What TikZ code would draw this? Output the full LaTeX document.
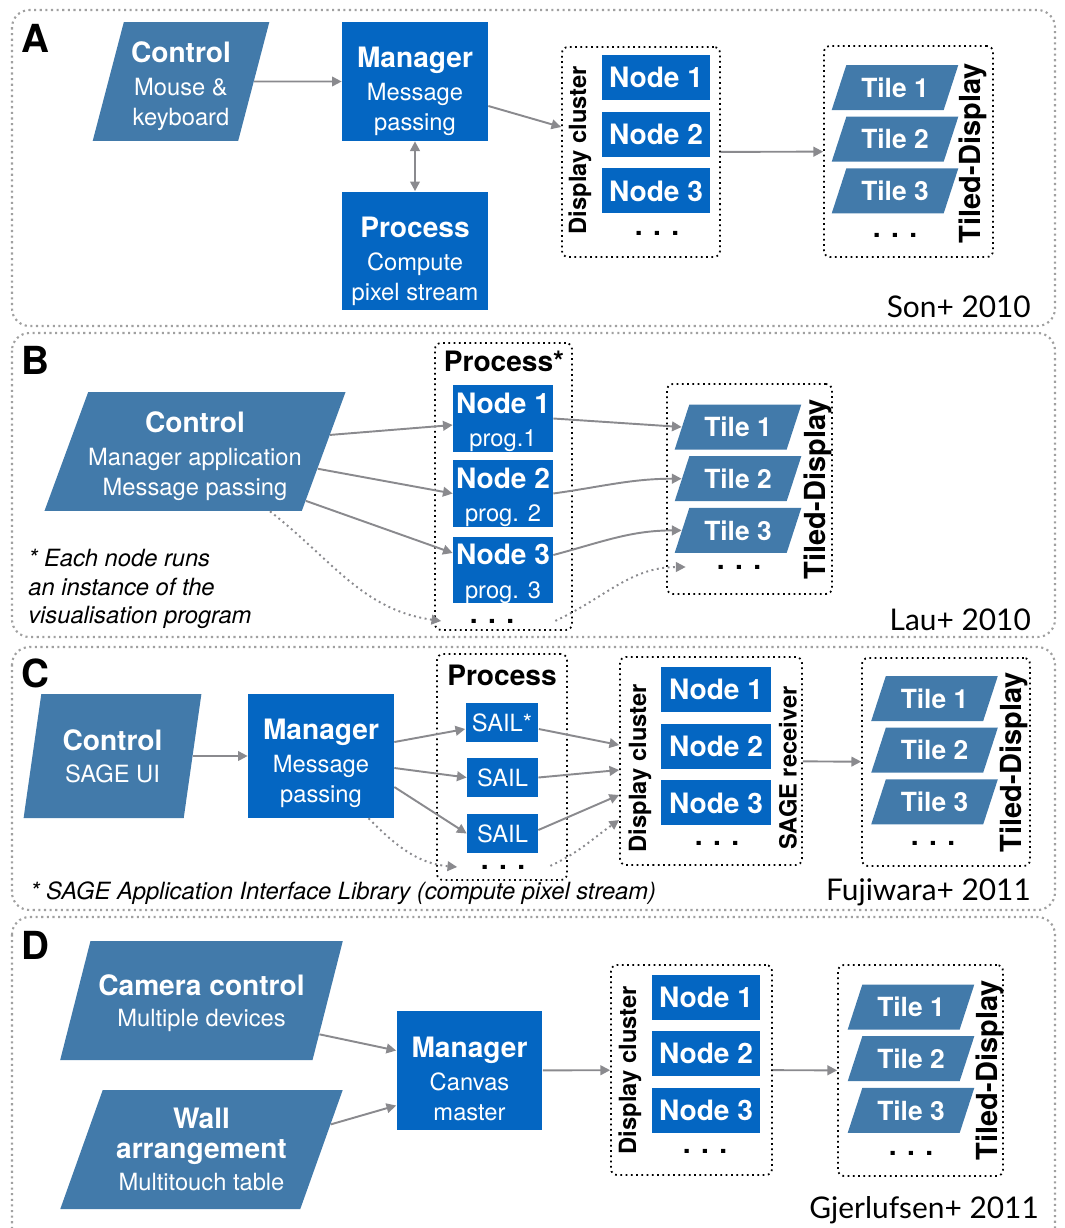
\documentclass[tikz,border=0pt]{standalone}
\usepackage{fontspec}
\setmainfont{TeX Gyre Heros}
\newfontfamily\citefont{Lato}
\usetikzlibrary{arrows.meta, positioning, shapes.geometric}

\definecolor{ctrlblue}{HTML}{427AAA}
\definecolor{boxblue}{HTML}{0466C2}
\definecolor{arrgray}{HTML}{8A8A8E}
\definecolor{framegray}{HTML}{A0A0A0}

% heading line, with an optional strut that pushes the text block down
\newcommand{\hd}[2][0pt]{{\rule{0pt}{#1}\fontsize{16}{19}\selectfont\bfseries #2}}

\tikzset{
  panel/.style={draw=framegray, dotted, line width=1.2pt, rounded corners=0.35cm},
  group/.style={draw, dotted, line width=1pt, rounded corners=0.12cm},
  para/.style={trapezium, trapezium stretches, fill=ctrlblue, text=white, align=center,
    inner sep=0pt, font=\fontsize{13.5}{17}\selectfont},
  mgrbox/.style={rectangle, fill=boxblue, text=white, align=center, inner sep=0pt,
    minimum width=2.92cm, minimum height=2.38cm, font=\fontsize{13.5}{17}\selectfont},
  nodebox/.style={rectangle, fill=boxblue, text=white, inner sep=0pt,
    minimum width=2.16cm, minimum height=0.9cm, font=\fontsize{16}{19}\selectfont\bfseries},
  sailbox/.style={nodebox, minimum width=1.42cm, minimum height=0.78cm,
    font=\fontsize{13.5}{16}\selectfont},
  tilebox/.style={trapezium, trapezium stretches, trapezium left angle=63, trapezium right angle=117,
    fill=ctrlblue, text=white, inner sep=0pt, minimum width=2.54cm, minimum height=0.9cm,
    font=\fontsize{15}{18}\selectfont\bfseries},
  vlabel/.style={rotate=90, font=\fontsize{13.5}{16}\selectfont\bfseries},
  tdlabel/.style={rotate=90, font=\fontsize{16.5}{19}\selectfont\bfseries},
  dots/.style={font=\fontsize{16}{19}\selectfont\bfseries},
  cite/.style={anchor=east, font=\citefont\fontsize{17}{20}\selectfont},
  note/.style={anchor=west, align=left, inner sep=0pt, font=\itshape\fontsize{13.5}{16.2}\selectfont},
  letter/.style={font=\fontsize{22}{26}\selectfont\bfseries},
  arr/.style={draw=arrgray, line width=1.1pt, ->},
  dotarr/.style={arr, dotted}
}

\begin{document}
\begin{tikzpicture}[x=0.02cm, y=-0.02cm, node distance=0.22cm,
  >={Triangle[length=5.5pt, width=5.5pt]}]
\useasboundingbox (0,0) rectangle (1065,1228);

% ---------------- A ----------------
\draw[panel] (12,10) rectangle (1055,326);
\node[letter] (labA) at (35,38) {A};
\node[para, trapezium left angle=74.5, trapezium right angle=105.5,
  minimum width=3.56cm, minimum height=2.38cm] (ctrlA) at (181,81.5)
  {\hd[17pt]{Control}\\[2pt]Mouse \&\\keyboard};
\node[mgrbox] (mgrA) at (415,81.5) {\hd[23pt]{Manager}\\[2pt]Message\\passing};
\node[mgrbox] (procA) at (415,251) {\hd[23pt]{Process}\\[2pt]Compute\\pixel stream};

\node[group, minimum width=3.16cm, minimum height=4.2cm] (clusA) at (641,152) {};
\node[vlabel] (clusAlbl) at (580,150) {Display cluster};
\node[nodebox] (n1A) at (656,77.5) {Node 1};
\node[nodebox, below=of n1A] (n2A) {Node 2};
\node[nodebox, below=of n2A] (n3A) {Node 3};
\node[dots] (dotsA) at (657,233) {. . .};

\node[group, minimum width=3.38cm, minimum height=4.22cm] (tilesA) at (908.5,151.5) {};
\node[tilebox] (t1A) at (895,87.5) {Tile 1};
\node[tilebox, below=0.12cm of t1A] (t2A) {Tile 2};
\node[tilebox, below=0.12cm of t2A] (t3A) {Tile 3};
\node[dots] (tdotsA) at (895,235) {. . .};
\node[tdlabel] (tdA) at (973,153) {Tiled-Display};
\node[cite] (citeA) at (1037,307) {Son+ 2010};

\draw[arr] (ctrlA) -- (mgrA);
\draw[arr, <->] (mgrA) -- (procA);
\draw[arr] ([yshift=-0.49cm]mgrA.east) -- ([yshift=0.5cm]clusA.west);
\draw[arr] (clusA) -- (tilesA);

% ---------------- B ----------------
\draw[panel] (12,333) rectangle (1055,637);
\node[letter] (labB) at (35,360) {B};
\node[para, trapezium left angle=66, trapezium right angle=114,
  minimum width=5.8cm, minimum height=2.38cm] (ctrlB) at (195,451.5)
  {\hd[17pt]{Control}\\[2pt]Manager application\\Message passing};

\node[group, minimum width=2.74cm, minimum height=5.74cm] (procB) at (503.5,486.5) {};
\node[font=\fontsize{16}{19}\selectfont\bfseries] (procBlbl) at (504,361) {Process*};
\node[nodebox, align=center, minimum width=2cm, minimum height=1.26cm] (nd1B) at (503,418.5)
  {\rule{0pt}{16pt}Node 1\\{\mdseries\fontsize{13.5}{17}\selectfont prog.1}};
\node[nodebox, align=center, minimum width=2cm, minimum height=1.26cm] (nd2B) at (503,493.5)
  {\rule{0pt}{16pt}Node 2\\{\mdseries\fontsize{13.5}{17}\selectfont prog. 2}};
\node[nodebox, align=center, minimum width=2cm, minimum height=1.26cm] (nd3B) at (503,570)
  {\rule{0pt}{16pt}Node 3\\{\mdseries\fontsize{13.5}{17}\selectfont prog. 3}};
\node[dots] (dotsB) at (492,621) {. . .};

\node[group, minimum width=3.3cm, minimum height=4.2cm] (tilesB) at (749.5,489) {};
\node[tilebox] (t1B) at (738,427) {Tile 1};
\node[tilebox, below=0.12cm of t1B] (t2B) {Tile 2};
\node[tilebox, below=0.12cm of t2B] (t3B) {Tile 3};
\node[dots] (tdotsB) at (739,567) {. . .};
\node[tdlabel] (tdB) at (818,489) {Tiled-Display};

\node[note] (noteB) at (28,589) {* Each node runs\\an instance of the\\visualisation program};
\node[cite] (citeB) at (1037,620) {Lau+ 2010};

\draw[arr] (ctrlB.7) -- ([yshift=-0.13cm]nd1B.west);
\draw[arr] (ctrlB.-8) -- (nd2B.west);
\draw[arr] (ctrlB.-24) -- ([yshift=0.34cm]nd3B.west);
\draw[dotarr] ([xshift=1.5cm]ctrlB.south) to[out=-38, in=172] ([xshift=-0.45cm]dotsB.west);
\draw[arr] (nd1B.east) -- (t1B.west);
\draw[arr] (nd2B.east) to[out=8, in=180] (t2B.west);
\draw[arr] ([yshift=0.3cm]nd3B.east) to[out=15, in=180] (t3B.west);
\draw[dotarr] ([xshift=-0.35cm, yshift=0.2cm]procB.south east) to[out=25, in=180] ([xshift=-0.5cm]tdotsB.west);

% ---------------- C ----------------
\draw[panel] (12,647) rectangle (1055,910);
\node[letter] (labC) at (35,673) {C};
\node[para, trapezium left angle=76.8, trapezium right angle=103.2,
  minimum width=3.58cm, minimum height=2.48cm] (ctrlC) at (112.5,756)
  {\hd{Control}\\[1pt]SAGE UI};
\node[mgrbox, minimum height=2.48cm] (mgrC) at (321,756) {\hd[20pt]{Manager}\\[2pt]Message\\passing};

\node[group, minimum width=2.6cm, minimum height=4.52cm] (procC) at (502,767) {};
\node[font=\fontsize{16}{19}\selectfont\bfseries] (procClbl) at (502,675) {Process};
\node[sailbox, minimum width=1.46cm] (sl1C) at (502,722.5) {SAIL*};
\node[sailbox] (sl2C) at (502.5,777.5) {SAIL};
\node[sailbox] (sl3C) at (502.5,833.5) {SAIL};
\node[dots] (dotsC) at (503,867) {. . .};

\node[group, minimum width=3.64cm, minimum height=4.16cm] (clusC) at (711,761) {};
\node[vlabel] (clusClbl) at (640,768) {Display cluster};
\node[vlabel] (sageClbl) at (788,768) {SAGE receiver};
\node[nodebox, minimum width=2.2cm] (cn1C) at (716,689.5) {Node 1};
\node[nodebox, minimum width=2.2cm, below=of cn1C] (cn2C) {Node 2};
\node[nodebox, minimum width=2.2cm, below=of cn2C] (cn3C) {Node 3};
\node[dots] (dotsC2) at (717,843) {. . .};

\node[group, minimum width=3.36cm, minimum height=4.16cm] (tilesC) at (946,762) {};
\node[tilebox] (t1C) at (934.5,698.5) {Tile 1};
\node[tilebox, below=0.12cm of t1C] (t2C) {Tile 2};
\node[tilebox, below=0.12cm of t2C] (t3C) {Tile 3};
\node[dots] (tdotsC) at (933,843) {. . .};
\node[tdlabel] (tdC) at (1014,762) {Tiled-Display};

\node[note] (noteC) at (30,893) {* SAGE Application Interface Library (compute pixel stream)};
\node[cite] (citeC) at (1037,892) {Fujiwara+ 2011};

\draw[arr] (ctrlC) -- (mgrC);
\draw[arr] ([yshift=0.28cm]mgrC.east) -- ([yshift=-0.13cm]sl1C.west);
\draw[arr] ([yshift=-0.24cm]mgrC.east) -- (sl2C.west);
\draw[arr] ([yshift=-0.62cm]mgrC.east) -- (sl3C.west);
\draw[dotarr] ([xshift=0.95cm]mgrC.south) to[out=-45, in=175] ([xshift=-0.35cm]dotsC.west);
\draw[arr] ([yshift=-0.13cm]sl1C.east) -- ([yshift=0.32cm]clusC.west);
\draw[arr] (sl2C.east) -- ([yshift=-0.18cm]clusC.west);
\draw[arr] ([yshift=0.07cm]sl3C.east) -- ([yshift=-0.68cm]clusC.west);
\draw[dotarr] ([xshift=-0.35cm, yshift=0.3cm]procC.south east) to[out=25, in=215] ([yshift=-1.18cm]clusC.west);
\draw[arr] (clusC) -- (tilesC);

% ---------------- D ----------------
\draw[panel] (12,917) rectangle (1055,1245);
\node[letter] (labD) at (35,945) {D};
\node[para, trapezium left angle=66, trapezium right angle=114,
  minimum width=5.66cm, minimum height=2.38cm] (camD) at (201.5,1000.5)
  {\hd[15pt]{Camera control}\\[1pt]Multiple devices};
\node[para, trapezium left angle=66, trapezium right angle=114,
  minimum width=5.66cm, minimum height=2.38cm] (wallD) at (201.5,1149.5)
  {\hd{Wall}\\\hd{arrangement}\\[1pt]Multitouch table};
\node[mgrbox] (mgrD) at (469.5,1070.5) {\hd[21pt]{Manager}\\[2pt]Canvas\\master};

\node[group, minimum width=3.22cm, minimum height=4.2cm] (clusD) at (691.5,1070) {};
\node[vlabel] (clusDlbl) at (630,1070) {Display cluster};
\node[nodebox] (dn1D) at (706,997) {Node 1};
\node[nodebox, below=of dn1D] (dn2D) {Node 2};
\node[nodebox, below=of dn2D] (dn3D) {Node 3};
\node[dots] (dotsD) at (705,1151) {. . .};

\node[group, minimum width=3.3cm, minimum height=4.22cm] (tilesD) at (920.5,1070.5) {};
\node[tilebox] (t1D) at (911,1007) {Tile 1};
\node[tilebox, below=0.12cm of t1D] (t2D) {Tile 2};
\node[tilebox, below=0.12cm of t2D] (t3D) {Tile 3};
\node[dots] (tdotsD) at (911,1153) {. . .};
\node[tdlabel] (tdD) at (990,1070) {Tiled-Display};
\node[cite] (citeD) at (1045,1210) {Gjerlufsen+ 2011};

\draw[arr] (camD.-16) -- ([yshift=0.4cm]mgrD.west);
\draw[arr] (wallD.11) -- ([yshift=-0.7cm]mgrD.west);
\draw[arr] (mgrD) -- (clusD);
\draw[arr] (clusD) -- (tilesD);
\end{tikzpicture}
\end{document}
